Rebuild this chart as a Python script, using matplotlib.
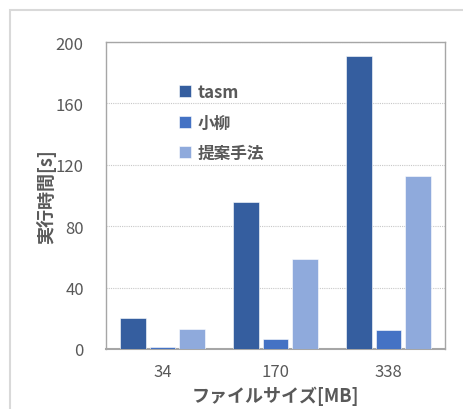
import matplotlib
matplotlib.use("Agg")
import matplotlib.pyplot as plt
import matplotlib.patches as mpatches
import numpy as np

plt.rcParams['font.family'] = ['Noto Sans CJK JP', 'DejaVu Sans']

categories = ["34", "170", "338"]
series_names = ["tasm", "小柳", "提案手法"]
tasm = [20.5, 96, 191]
koyanagi = [1.5, 6.5, 12.4]
proposed = [13, 58.6, 112.5]
y_ticks = [0, 40, 80, 120, 160, 200]

colors = ["#355E9F", "#4472C4", "#8FAADC"]
text_gray = "#595959"

fig = plt.figure(figsize=(4.64, 4.10), dpi=100)

# light outer frame around the chart area
frame = mpatches.Rectangle((10 / 464, -0.05), 1.0, (410 - 11) / 410 + 0.05,
                           transform=fig.transFigure, fill=False,
                           edgecolor="#d9d9d9", linewidth=1.5)
fig.patches.append(frame)

ax = fig.add_axes([106 / 464, 60 / 410, 339 / 464, 307 / 410])

x = np.arange(len(categories))
width = 0.23
step = 0.257
for i, (vals, name) in enumerate(zip([tasm, koyanagi, proposed], series_names)):
    ax.bar(x + (i - 1) * step, vals, width, color=colors[i], label=name,
           zorder=3, edgecolor="white", linewidth=0.4)

ax.set_xlim(-0.5, 2.5)
ax.set_ylim(0, 200)
ax.set_yticks(y_ticks)
ax.set_xticks(x)
ax.set_xticklabels(categories)
ax.tick_params(axis="both", length=0, labelsize=12, colors=text_gray)
ax.tick_params(axis="x", pad=10)
ax.tick_params(axis="y", pad=16)

ax.yaxis.grid(True, linestyle=(0, (1, 1)), color="#c8c8c8", linewidth=0.8, zorder=0)
for s in ["top", "right", "left"]:
    ax.spines[s].set_color("#a6a6a6")
    ax.spines[s].set_linewidth(1.0)
ax.spines["bottom"].set_color("#a6a6a6")
ax.spines["bottom"].set_linewidth(1.5)

ax.set_ylabel("実行時間[s]", fontsize=13, fontweight="bold", color=text_gray, labelpad=0)
ax.set_xlabel("ファイルサイズ[MB]", fontsize=13, fontweight="bold", color=text_gray, labelpad=4)

leg = ax.legend(loc="upper left", bbox_to_anchor=(0.17, 0.915), frameon=False,
                handlelength=0.75, handleheight=0.75, handletextpad=0.4,
                labelspacing=0.75, prop={"size": 12, "weight": "bold"})
for t in leg.get_texts():
    t.set_color(text_gray)

fig.savefig("out.png", dpi=100)
